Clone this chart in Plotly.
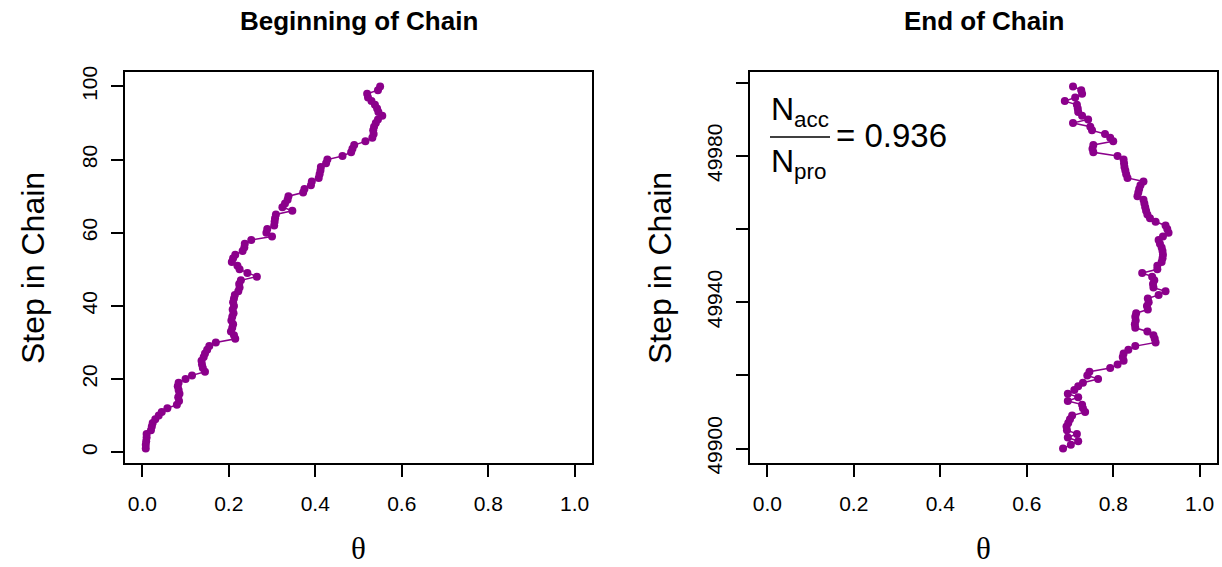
import plotly.graph_objects as go

# ---- data ----
steps_begin = list(range(1, 101))
theta_begin = [
    0.008, 0.008, 0.009, 0.010, 0.010, 0.020, 0.022, 0.024, 0.030, 0.038,
    0.045, 0.058, 0.080, 0.085, 0.083, 0.086, 0.084, 0.082, 0.084, 0.100,
    0.115, 0.145, 0.140, 0.138, 0.137, 0.142, 0.145, 0.150, 0.155, 0.170,
    0.215, 0.212, 0.205, 0.208, 0.210, 0.206, 0.208, 0.211, 0.209, 0.212,
    0.210, 0.212, 0.214, 0.222, 0.225, 0.224, 0.228, 0.265, 0.243, 0.225,
    0.220, 0.207, 0.210, 0.215, 0.232, 0.236, 0.237, 0.252, 0.300, 0.287,
    0.289, 0.305, 0.306, 0.307, 0.309, 0.347, 0.324, 0.330, 0.336, 0.338,
    0.372, 0.375, 0.390, 0.392, 0.408, 0.410, 0.412, 0.413, 0.425, 0.428,
    0.463, 0.483, 0.486, 0.490, 0.516, 0.532, 0.535, 0.534, 0.536, 0.540,
    0.545, 0.555, 0.546, 0.543, 0.538, 0.530, 0.522, 0.520, 0.545, 0.550,
]
steps_end = list(range(49900, 50000))
theta_end = [
    0.684, 0.702, 0.719, 0.695, 0.716, 0.693, 0.692, 0.696, 0.700, 0.705,
    0.735, 0.730, 0.728, 0.695, 0.719, 0.695, 0.710, 0.719, 0.730, 0.765,
    0.740, 0.745, 0.793, 0.810, 0.824, 0.822, 0.824, 0.835, 0.851, 0.898,
    0.896, 0.893, 0.879, 0.851, 0.850, 0.852, 0.851, 0.853, 0.880, 0.878,
    0.882, 0.880, 0.905, 0.921, 0.893, 0.892, 0.895, 0.890, 0.867, 0.902,
    0.902, 0.912, 0.914, 0.915, 0.914, 0.912, 0.908, 0.905, 0.915, 0.928,
    0.925, 0.921, 0.898, 0.885, 0.879, 0.876, 0.874, 0.872, 0.870, 0.856,
    0.858, 0.860, 0.863, 0.870, 0.833, 0.830, 0.828, 0.826, 0.825, 0.824,
    0.810, 0.754, 0.752, 0.754, 0.800, 0.793, 0.781, 0.751, 0.747, 0.707,
    0.742, 0.728, 0.719, 0.718, 0.716, 0.688, 0.712, 0.728, 0.726, 0.707,
]
x_ticks = [0.0, 0.2, 0.4, 0.6, 0.8, 1.0]
x_ticklabels = ["0.0", "0.2", "0.4", "0.6", "0.8", "1.0"]
y_ticks_begin = [0, 20, 40, 60, 80, 100]
y_ticks_end = [49900, 49920, 49940, 49960, 49980, 50000]
y_ticklabels_end = ["49900", "", "49940", "", "49980", ""]
acc_ratio = "0.936"

W, H = 1222, 567
COL = "#8B008B"
FONT = "Liberation Sans, Arial, sans-serif"


def px(x):
    return x / W


def py(y):
    return 1 - y / H


fig = go.Figure()
fig.add_trace(go.Scatter(x=theta_begin, y=steps_begin, mode="lines+markers",
                         line=dict(color=COL, width=1.5),
                         marker=dict(color=COL, size=8),
                         xaxis="x", yaxis="y", showlegend=False))
fig.add_trace(go.Scatter(x=theta_end, y=steps_end, mode="lines+markers",
                         line=dict(color=COL, width=1.5),
                         marker=dict(color=COL, size=8),
                         xaxis="x2", yaxis="y2", showlegend=False))

axis_common = dict(showline=True, mirror=True, linecolor="black", linewidth=1.5,
                   ticks="outside", ticklen=12, tickwidth=1.5, tickcolor="black",
                   showgrid=False, zeroline=False, automargin=False,
                   tickfont=dict(family=FONT, size=21, color="black"))

ydom = [py(463), py(72)]
fig.update_layout(
    width=W, height=H,
    margin=dict(l=0, r=0, t=0, b=0, pad=0, autoexpand=False),
    paper_bgcolor="white", plot_bgcolor="white",
    xaxis=dict(domain=[px(125), px(592)], range=[-0.04, 1.04], anchor="y",
               tickvals=x_ticks, ticktext=x_ticklabels, ticklabelstandoff=9,
               **axis_common),
    yaxis=dict(domain=ydom, range=[1 - 0.04 * 99, 100 + 0.04 * 99], anchor="x",
               tickvals=y_ticks_begin, tickangle=-90, ticklabelstandoff=6,
               **axis_common),
    xaxis2=dict(domain=[px(750), px(1217)], range=[-0.04, 1.04], anchor="y2",
                tickvals=x_ticks, ticktext=x_ticklabels, ticklabelstandoff=9,
                **axis_common),
    yaxis2=dict(domain=ydom, range=[49900 - 0.04 * 99, 49999 + 0.04 * 99], anchor="x2",
                tickvals=y_ticks_end, ticktext=y_ticklabels_end, tickangle=-90,
                ticklabelstandoff=6, **axis_common),
)

ann = []
# titles
ann.append(dict(x=px(358.5), y=py(21), text="<b>Beginning of Chain</b>",
                font=dict(family=FONT, size=26, color="black")))
ann.append(dict(x=px(983.5), y=py(21), text="<b>End of Chain</b>",
                font=dict(family=FONT, size=26, color="black")))
# axis titles
for xc in (33, 660):
    ann.append(dict(x=px(xc), y=py(268), text="Step in Chain", textangle=-90,
                    font=dict(family=FONT, size=32, color="black")))
for xc in (358.5, 983.5):
    ann.append(dict(x=px(xc), y=py(548), text="θ",
                    font=dict(family="Liberation Serif, Times New Roman, serif",
                              size=31, color="black")))
# acceptance fraction
ann.append(dict(x=px(769), y=py(111), xanchor="left", text="N<sub>acc</sub>",
                font=dict(family=FONT, size=32, color="black")))
ann.append(dict(x=px(769), y=py(163), xanchor="left", text="N<sub>pro</sub>",
                font=dict(family=FONT, size=32, color="black")))
ann.append(dict(x=px(834), y=py(135), xanchor="left", text="= " + acc_ratio,
                font=dict(family=FONT, size=33, color="black")))
for a in ann:
    a.update(xref="paper", yref="paper", showarrow=False)
    a.setdefault("xanchor", "center")
    a.setdefault("yanchor", "middle")
fig.update_layout(annotations=ann)
fig.add_shape(type="line", xref="paper", yref="paper",
              x0=px(770), x1=px(830), y0=py(137), y1=py(137),
              line=dict(color="black", width=1.5))

fig.write_html("out.html")
